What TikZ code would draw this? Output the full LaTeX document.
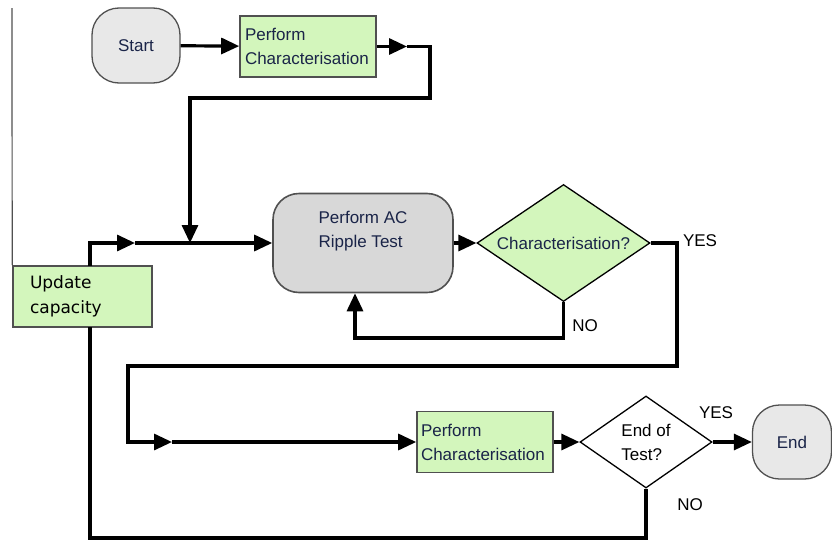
\documentclass[tikz,border=0pt]{standalone}
\usepackage{fontspec}
\setmainfont{Liberation Sans}
\newfontfamily\updatefont{DejaVu Sans}
\usetikzlibrary{shapes.geometric,arrows.meta}
\definecolor{boxGreen}{RGB}{211,246,188}
\definecolor{boxGray}{RGB}{216,216,216}
\definecolor{termGray}{RGB}{232,232,232}
\definecolor{textBlue}{RGB}{26,36,72}
\definecolor{edgeGray}{RGB}{80,80,80}

\begin{document}
\begin{tikzpicture}[x=1pt, y=-1pt]

% styles
\tikzstyle{stepBox}=[rectangle, draw=edgeGray, line width=1.6pt, fill=boxGreen, text=textBlue, font=\fontsize{17}{24}\selectfont, align=left, text width=126pt, inner xsep=5pt, inner ysep=0pt, minimum height=61pt]
\tikzstyle{updateBox}=[rectangle, draw=edgeGray, line width=1.6pt, fill=boxGreen, text=black, font=\updatefont\fontsize{17}{25}\selectfont, align=left, text width=105pt, inner xsep=17pt, inner ysep=0pt, minimum height=61pt]
\tikzstyle{termBox}=[rectangle, rounded corners=27pt, draw=edgeGray, line width=1.3pt, fill=termGray, text=textBlue, font=\fontsize{17}{24}\selectfont, inner sep=0pt]
\tikzstyle{testBox}=[rectangle, rounded corners=26pt, draw=edgeGray, line width=1.6pt, fill=boxGray, text=textBlue, font=\fontsize{17}{24}\selectfont, align=left, inner sep=0pt, minimum width=180pt, minimum height=99pt]
\tikzstyle{decisionBox}=[diamond, draw=black, line width=1.3pt, inner sep=0pt, aspect=1.5, font=\fontsize{17}{24}\selectfont, align=left]
\tikzstyle{labelText}=[text=black, font=\fontsize{17}{20}\selectfont, inner sep=0pt]

\tikzstyle{flowLine}=[line width=3.2pt, line join=miter]
\tikzstyle{flowArrow}=[-{Triangle[length=18pt,width=16pt]}, line width=3.2pt, line join=miter]
\tikzstyle{frameLine}=[line width=1.2pt, draw=edgeGray]

\useasboundingbox (0,0) rectangle (832,541);

% nodes
\node[termBox, minimum width=88pt, minimum height=75pt] (st) at (136,45.5) {Start};
\node[stepBox] (pc1) at (308,46.5) {Perform\\Characterisation};
\node[testBox] (ac) at (363,243) {Perform AC\\Ripple Test\\[4pt]};
\node[decisionBox, fill=boxGreen, text=textBlue, minimum width=173pt, minimum height=117pt] (ch) at (563.5,243) {Characterisation?};
\node[updateBox] (up) at (82.5,296.5) {Update\\capacity};
\node[stepBox, text width=128pt, inner xsep=4pt] (pc2) at (485,442) {Perform\\Characterisation};
\node[decisionBox, fill=white, minimum width=132pt, minimum height=92pt] (eot) at (646,442) {End of\\Test?};
\node[termBox, minimum width=79pt, minimum height=74pt] (en) at (792,442) {End};

\node[labelText] (yes1) at (700,241) {YES};
\node[labelText] (no1) at (585,326) {NO};
\node[labelText] (yes2) at (716,413) {YES};
\node[labelText] (no2) at (690,505) {NO};

% bends
\coordinate (frameTop) at (12,8);
\coordinate (tip1) at (407,46.5);
\coordinate (bend1) at (430,98);
\coordinate (join1) at (190,243);
\coordinate (upOut) at (90,266);
\coordinate (upIn) at (90,327);
\coordinate (tip2) at (135,243);
\coordinate (yesBend) at (677,366);
\coordinate (loopBend) at (128,366);
\coordinate (tip3) at (172,442);
\coordinate (noBend) at (355,338);
\coordinate (endBend) at (90,538);

\draw[frameLine] (frameTop) -- (up.north west);

\draw[flowArrow] (st) -- (pc1);
\draw[flowArrow] (pc1.east) -- (tip1);
\draw[flowArrow] (tip1) -| (bend1) -| (join1);
\draw[flowArrow] (upOut) |- (tip2);
\draw[flowArrow] (tip2) -- (ac.west);
\draw[flowArrow] (ac.east) -- (ch.west);
\draw[flowArrow] (ch.south) |- (noBend) -- (noBend |- ac.south);
\draw[flowArrow] (ch.east) -| (yesBend) -- (loopBend) |- (tip3);
\draw[flowArrow] (tip3) -- (pc2.west);
\draw[flowArrow] (pc2) -- (eot);
\draw[flowArrow] (eot) -- (en);
\draw[flowLine] (eot.south) |- (endBend) -- (upIn);

\end{tikzpicture}
\end{document}
